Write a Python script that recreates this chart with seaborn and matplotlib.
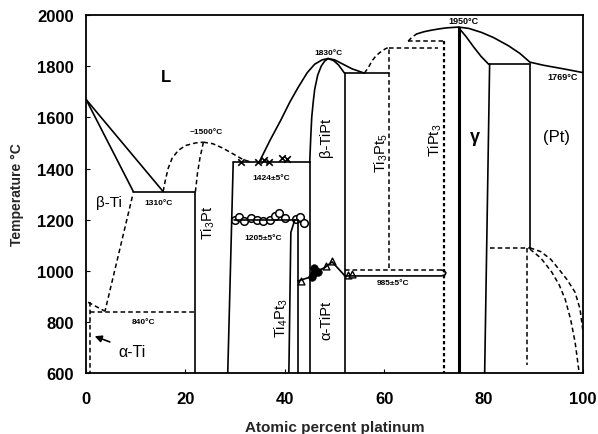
import matplotlib
matplotlib.use("Agg")
import matplotlib.pyplot as plt
import seaborn as sns

# ---------------- data (at.% Pt, temperature in °C) ----------------
# solid phase boundaries
ti_liquidus_x = [0, 15.5]
ti_liquidus_t = [1670, 1310]
ti_solidus_x = [0, 9.5]
ti_solidus_t = [1670, 1310]
eut1310_x = [9.5, 22]
eut1310_t = [1310, 1310]
ti3pt_left_x = [22, 22]
ti3pt_left_t = [1310, 600]
ti3pt_right_x = [28.5, 29.6]
ti3pt_right_t = [600, 1424]
eut1424_x = [29.6, 45]
eut1424_t = [1424, 1424]
eut1205_x = [29.7, 42.6]
eut1205_t = [1200, 1200]
ti4pt3_left_x = [40.8, 41.2, 42.0]
ti4pt3_left_t = [600, 1150, 1200]
ti4pt3_right_x = [42.6, 42.6]
ti4pt3_right_t = [1200, 600]
atipt_left_x = [45, 45]
atipt_left_t = [600, 1424]
btipt_liq_x = [34.8, 37.0, 39.2, 41.0, 42.6, 44.5, 46.0, 47.5, 48.7, 50.0, 51.5, 53.5, 56.0]
btipt_liq_t = [1424, 1510, 1590, 1660, 1715, 1775, 1808, 1825, 1830, 1825, 1810, 1790, 1773]
btipt_sol_l_x = [45, 45.2, 45.4, 45.7, 46.0, 46.6, 47.3, 48.0, 48.7]
btipt_sol_l_t = [1424, 1520, 1600, 1660, 1710, 1765, 1800, 1820, 1830]
btipt_sol_r_x = [48.7, 49.8, 50.8, 52.0]
btipt_sol_r_t = [1830, 1822, 1805, 1773]
eut1773_x = [52, 61]
eut1773_t = [1773, 1773]
atipt_right_x = [52, 52]
atipt_right_t = [1773, 600]
ab_tipt_x = [42.6, 45, 46.5, 48.0, 49.5, 52]
ab_tipt_t = [960, 975, 1000, 1012, 1035, 982]
l985_x = [52, 71.5, 72.2, 72.4, 72.1, 71.5]
l985_t = [980, 980, 984, 992, 1000, 1003]
tipt3_cong_x = [75, 75]
tipt3_cong_t = [600, 1950]
tipt3_liq_x = [66.5, 68.0, 69.5, 71.0, 72.5, 74.0, 75]
tipt3_liq_t = [1926, 1935, 1941, 1946, 1950, 1952, 1953]
gamma_liq_x = [75, 77.0, 79.6, 82.0, 85.0, 87.3, 89.3, 92.0, 96.0, 100]
gamma_liq_t = [1953, 1948, 1932, 1912, 1880, 1850, 1816, 1804, 1790, 1775]
gamma_sol_x = [75, 76.5, 78.0, 79.5, 81]
gamma_sol_t = [1950, 1915, 1875, 1838, 1808]
per1808_x = [81, 89.3]
per1808_t = [1808, 1808]
gamma_left_x = [81.2, 80.2]
gamma_left_t = [1808, 600]
pt_left_x = [89.3, 89.3]
pt_left_t = [1808, 1090]

# dashed (uncertain) boundaries
ti3pt_liq_l_x = [15.5, 15.9, 16.5, 17.3, 18.5, 20.0, 22.0, 23.6]
ti3pt_liq_l_t = [1310, 1350, 1400, 1440, 1470, 1490, 1500, 1503]
ti3pt_liq_r_x = [23.6, 25.5, 27.5, 29.5, 31.5, 33.0]
ti3pt_liq_r_t = [1503, 1497, 1480, 1458, 1436, 1426]
ti3pt_sol_x = [23.6, 22.9, 22.4, 22.0]
ti3pt_sol_t = [1503, 1440, 1380, 1310]
bti_solvus_x = [9.3, 3.8]
bti_solvus_t = [1290, 842]
ati_trans_x = [0.4, 3.8]
ati_trans_t = [877, 842]
eutd840_x = [0.8, 22]
eutd840_t = [838, 838]
ati_solvus_x = [0.8, 0.8]
ati_solvus_t = [877, 600]
l1003_x = [52, 71.5]
l1003_t = [1003, 1003]
ti3pt5_x = [61, 61]
ti3pt5_t = [1010, 1870]
ti3pt5_liq_x = [56, 56.8, 57.5, 58.3, 59.2, 60.2, 61]
ti3pt5_liq_t = [1773, 1795, 1820, 1840, 1855, 1868, 1875]
per1870_x = [61, 70.9]
per1870_t = [1870, 1870]
tipt3_dome_x = [64.8, 65.6, 66.5]
tipt3_dome_t = [1898, 1914, 1926]
per1898_x = [64.8, 72]
per1898_t = [1898, 1898]
tipt3_left_x = [72, 72]
tipt3_left_t = [1898, 600]
ord1090_x = [81.2, 89.3]
ord1090_t = [1090, 1090]
ord_vert_x = [88.7, 88.7]
ord_vert_t = [1090, 630]
pt_ord_out_x = [89.3, 91.5, 93.5, 95.1, 96.8, 98.4, 99.4, 100]
pt_ord_out_t = [1090, 1075, 1045, 1007, 965, 916, 850, 760]
pt_ord_in_x = [89.3, 91.5, 93.7, 95.2, 96.4, 97.5, 98.4, 99.2]
pt_ord_in_t = [1085, 1050, 995, 945, 889, 810, 721, 604]

# experimental points
cross_x = [31.1, 34.5, 35.7, 36.8, 39.5, 40.5]
cross_t = [1426, 1424, 1432, 1424, 1440, 1436]
circ_x = [29.9, 30.8, 31.7, 33.2, 34.4, 35.6, 37.0, 38.1, 38.9, 40.0, 42.2, 43.0, 43.9]
circ_t = [1198, 1212, 1196, 1205, 1200, 1195, 1200, 1214, 1228, 1208, 1202, 1212, 1186]
tri_x = [43.2, 48.3, 49.5, 52.8, 53.6]
tri_t = [960, 1020, 1040, 985, 988]
dot_x = [45.4, 45.8, 46.2, 46.6, 45.9]
dot_t = [975, 990, 1000, 995, 1010]

# ---------------- figure ----------------
sns.set_theme(style="ticks")
plt.rcParams["font.family"] = ["Liberation Sans", "DejaVu Sans"]
plt.rcParams["mathtext.default"] = "regular"

fig = plt.figure(figsize=(5.98, 4.35), dpi=100)
ax = fig.add_axes([0.144, 0.140, 0.831, 0.823])
fig.patch.set_facecolor("white")

solid = [
    (ti_liquidus_x, ti_liquidus_t), (ti_solidus_x, ti_solidus_t), (eut1310_x, eut1310_t),
    (ti3pt_left_x, ti3pt_left_t), (ti3pt_right_x, ti3pt_right_t), (eut1424_x, eut1424_t),
    (eut1205_x, eut1205_t), (ti4pt3_left_x, ti4pt3_left_t), (ti4pt3_right_x, ti4pt3_right_t),
    (atipt_left_x, atipt_left_t), (btipt_liq_x, btipt_liq_t), (btipt_sol_l_x, btipt_sol_l_t),
    (btipt_sol_r_x, btipt_sol_r_t), (eut1773_x, eut1773_t), (atipt_right_x, atipt_right_t),
    (ab_tipt_x, ab_tipt_t), (l985_x, l985_t), (tipt3_liq_x, tipt3_liq_t),
    (gamma_liq_x, gamma_liq_t), (gamma_sol_x, gamma_sol_t), (per1808_x, per1808_t),
    (gamma_left_x, gamma_left_t), (pt_left_x, pt_left_t),
]
dashed = [
    (ti3pt_liq_l_x, ti3pt_liq_l_t), (ti3pt_liq_r_x, ti3pt_liq_r_t), (ti3pt_sol_x, ti3pt_sol_t),
    (bti_solvus_x, bti_solvus_t), (ati_trans_x, ati_trans_t), (eutd840_x, eutd840_t),
    (ati_solvus_x, ati_solvus_t), (l1003_x, l1003_t), (ti3pt5_x, ti3pt5_t),
    (ti3pt5_liq_x, ti3pt5_liq_t), (per1870_x, per1870_t), (tipt3_dome_x, tipt3_dome_t),
    (per1898_x, per1898_t), (ord1090_x, ord1090_t), (ord_vert_x, ord_vert_t),
    (pt_ord_out_x, pt_ord_out_t), (pt_ord_in_x, pt_ord_in_t),
]

for xs, ts in solid:
    sns.lineplot(x=xs, y=ts, sort=False, estimator=None, color="black", lw=1.2, ax=ax)
for xs, ts in dashed:
    sns.lineplot(x=xs, y=ts, sort=False, estimator=None, color="black", lw=1.1,
                 ax=ax).lines[-1].set_dashes((3, 2))
ln = sns.lineplot(x=tipt3_left_x, y=tipt3_left_t, sort=False, estimator=None,
                  color="black", lw=1.6, ax=ax).lines[-1]
ln.set_dashes((1.5, 1.2))
sns.lineplot(x=tipt3_cong_x, y=tipt3_cong_t, sort=False, estimator=None,
             color="black", lw=2.2, ax=ax)

sns.scatterplot(x=cross_x, y=cross_t, marker="x", s=22, color="black", linewidth=1.2, ax=ax)
sns.scatterplot(x=circ_x, y=circ_t, marker="o", s=30, facecolor="white",
                edgecolor="black", linewidth=1.1, ax=ax)
sns.scatterplot(x=tri_x, y=tri_t, marker="^", s=24, facecolor="white",
                edgecolor="black", linewidth=1.0, ax=ax)
sns.scatterplot(x=dot_x, y=dot_t, marker="o", s=30, color="black", edgecolor="black", ax=ax)

# arrow for alpha-Ti
ax.annotate("", xy=(1.2, 748), xytext=(5.3, 718),
            arrowprops=dict(arrowstyle="-|>", color="black", lw=1.2, mutation_scale=10))

fb = dict(color="black", fontweight="bold")
ax.text(16, 1760, "L", fontsize=12, ha="center", va="center", **fb)
ax.text(4.6, 1268, "β-Ti", fontsize=11, ha="center", va="center", color="black")
ax.text(14.5, 1268, "1310°C", fontsize=6, ha="center", va="center", **fb)
ax.text(24.2, 1545, "~1500°C", fontsize=6, ha="center", va="center", **fb)
ax.text(37.3, 1364, "1424±5°C", fontsize=6, ha="center", va="center", **fb)
ax.text(35.6, 1130, "1205±5°C", fontsize=6, ha="center", va="center", **fb)
ax.text(11.6, 800, "840°C", fontsize=6, ha="center", va="center", **fb)
ax.text(9.3, 683, "α-Ti", fontsize=11.5, ha="center", va="center", color="black")
ax.text(48.7, 1852, "1830°C", fontsize=6, ha="center", va="center", **fb)
ax.text(76.0, 1978, "1950°C", fontsize=6.5, ha="center", va="center", **fb)
ax.text(95.8, 1760, "1769°C", fontsize=6.5, ha="center", va="center", **fb)
ax.text(61.8, 956, "985±5°C", fontsize=6, ha="center", va="center", **fb)
ax.text(24.6, 1190, r"Ti$_3$Pt", fontsize=10.5, rotation=90, ha="center", va="center", color="black")
ax.text(39.2, 820, r"Ti$_4$Pt$_3$", fontsize=10.5, rotation=90, ha="center", va="center", color="black")
ax.text(48.3, 810, "α-TiPt", fontsize=10.5, rotation=90, ha="center", va="center", color="black")
ax.text(48.3, 1525, "β-TiPt", fontsize=10.5, rotation=90, ha="center", va="center", color="black")
ax.text(59.5, 1465, r"Ti$_3$Pt$_5$", fontsize=10.5, rotation=90, ha="center", va="center", color="black")
ax.text(70.2, 1515, r"TiPt$_3$", fontsize=10.5, rotation=90, ha="center", va="center", color="black")
ax.text(78.3, 1525, "γ", fontsize=13, ha="center", va="center", **fb)
ax.text(94.7, 1525, "(Pt)", fontsize=12, ha="center", va="center", color="black")

ax.set_xlim(0, 100)
ax.set_ylim(600, 2000)
ax.set_xticks([0, 20, 40, 60, 80, 100])
ax.set_yticks([600, 800, 1000, 1200, 1400, 1600, 1800, 2000])
ax.tick_params(direction="in", length=3, width=0.8, labelsize=12, colors="black")
ax.tick_params(axis="x", pad=13)
ax.tick_params(axis="y", pad=9)
for lab in ax.get_xticklabels() + ax.get_yticklabels():
    lab.set_fontweight("bold")
ax.set_xlabel("Atomic percent platinum", fontsize=11, fontweight="bold", labelpad=10)
ax.set_ylabel("Temperature °C", fontsize=10, fontweight="bold", labelpad=9)
for s in ax.spines.values():
    s.set_visible(True)
    s.set_color("black")
    s.set_linewidth(1.3)
ax.set_facecolor("white")

fig.savefig("out.png", dpi=100, facecolor="white")
